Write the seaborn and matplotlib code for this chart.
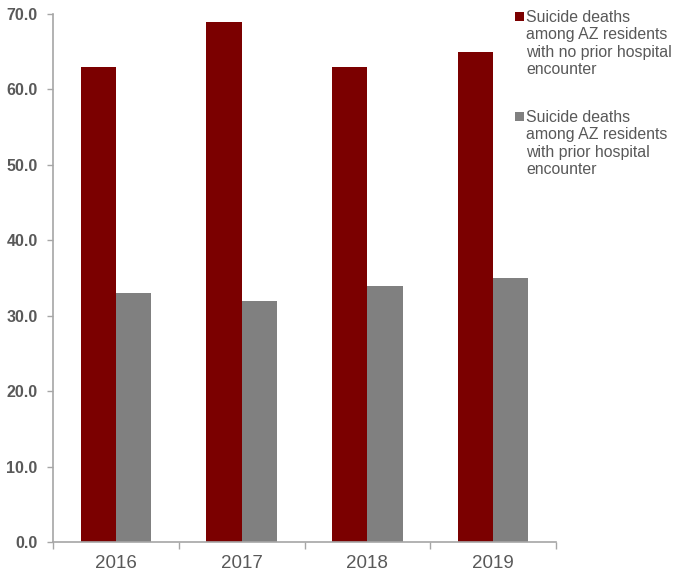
import matplotlib
matplotlib.use("Agg")
import matplotlib.pyplot as plt
import seaborn as sns
import pandas as pd
from matplotlib.patches import Rectangle
from matplotlib.ticker import FixedLocator

years = ["2016", "2017", "2018", "2019"]
no_prior = [63, 69, 63, 65]
with_prior = [33, 32, 34, 35]
series_labels = [
    "Suicide deaths\namong AZ residents\nwith no prior hospital\nencounter",
    "Suicide deaths\namong AZ residents\nwith prior hospital\nencounter",
]
y_ticks = [0, 10, 20, 30, 40, 50, 60, 70]

df = pd.DataFrame({
    "Year": years * 2,
    "Value": no_prior + with_prior,
    "Series": [series_labels[0]] * 4 + [series_labels[1]] * 4,
})

sns.set_style("white")
plt.rcParams["font.family"] = ["Liberation Sans", "DejaVu Sans"]

colors = ["#7B0000", "#808080"]
text_color = "#595959"
spine_color = "#A6A6A6"

W, H = 674, 575
fig = plt.figure(figsize=(W / 100, H / 100), dpi=100)
ax = fig.add_axes([53 / W, 1 - 542 / H, (556 - 53) / W, (542 - 14) / H])

sns.barplot(data=df, x="Year", y="Value", hue="Series", palette=colors,
            width=0.56, ax=ax, legend=False, saturation=1, edgecolor="none")

ax.set_xlim(-0.5, 3.5)
ax.set_ylim(0, 70)
ax.set_yticks(y_ticks)
ax.set_yticklabels([f"{v:.1f}" for v in y_ticks], fontsize=11.5, fontweight="bold", color=text_color)
ax.tick_params(axis="y", length=4, width=1, color=spine_color, pad=7, direction="out", left=True)

ax.set_xticks(range(len(years)))
ax.set_xticklabels(years, fontsize=13.5, color=text_color)
ax.tick_params(axis="x", which="major", length=0, pad=9)
ax.xaxis.set_minor_locator(FixedLocator([-0.5, 0.5, 1.5, 2.5, 3.5]))
ax.tick_params(axis="x", which="minor", length=5, width=1, color=spine_color, direction="out", bottom=True)

ax.set_xlabel("")
ax.set_ylabel("")
for s in ["top", "right"]:
    ax.spines[s].set_visible(False)
for s in ["left", "bottom"]:
    ax.spines[s].set_color(spine_color)
    ax.spines[s].set_linewidth(1.2)

# Legend drawn manually: square marker aligned with the first line of each label
for i, (lab, c) in enumerate(zip(series_labels, colors)):
    top = 10 + i * 100
    fig.patches.append(Rectangle((515 / W, 1 - (top + 11) / H), 9 / W, 9 / H,
                                 transform=fig.transFigure, facecolor=c,
                                 edgecolor="none"))
    fig.text(526 / W, 1 - top / H, lab, ha="left", va="top", fontsize=11.4,
             color=text_color, linespacing=1.2)

fig.savefig("out.png", dpi=100)
